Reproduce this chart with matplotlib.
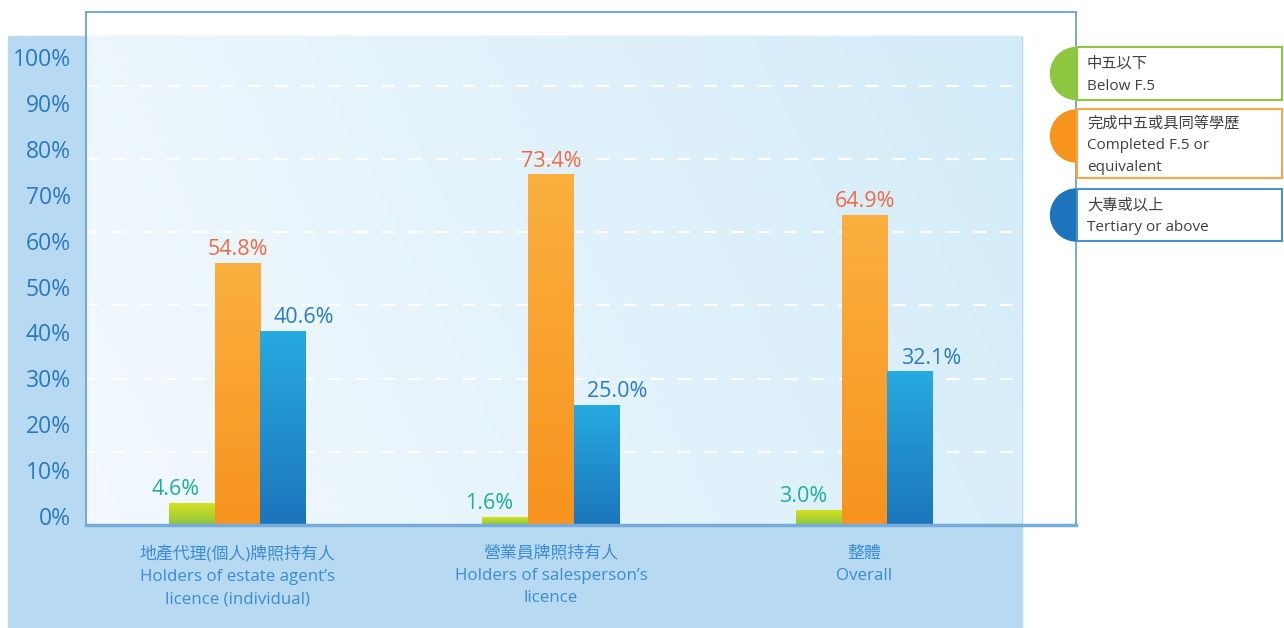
"""
Education level of licence holders - grouped bar chart with gradient bars.
"""

import matplotlib.pyplot as plt
import numpy as np
from matplotlib.colors import LinearSegmentedColormap
from matplotlib.patches import Rectangle, Circle

plt.rcParams['font.family'] = ['Open Sans', 'Noto Sans CJK TC', 'DejaVu Sans']

# data
categories = ["地產代理(個人)牌照持有人\nHolders of estate agent’s\nlicence (individual)",
              "營業員牌照持有人\nHolders of salesperson’s\nlicence",
              "整體\nOverall"]
series_names = ["中五以下\nBelow F.5",
                "完成中五或具同等學歷\nCompleted F.5 or\nequivalent",
                "大專或以上\nTertiary or above"]
below_f5 = [4.6, 1.6, 3.0]
completed_f5 = [54.8, 73.4, 64.9]
tertiary = [40.6, 25.0, 32.1]
y_ticks = list(range(0, 101, 10))

# styles
W, H = 1284, 628
bar_grads = [('#8cc63f', '#d7e021'), ('#f7931e', '#fbb040'), ('#1c75bc', '#27aae1')]
label_colors = ['#1fb09c', '#f06a45', '#2b7cc3']
legend_colors = ['#8dc63f', '#f7941d', '#1c75bc']
legend_edges = ['#8dc63f', '#f9a54a', '#4a8fd0']
spine_col = '#6aa3d6'


def fx(x):
    return x / W


def fy(y):
    return 1 - y / H


fig = plt.figure(figsize=(W / 100, H / 100), dpi=100)
fig.patch.set_facecolor('white')

# outer light blue panel
fig.patches.append(Rectangle((fx(8), 0), fx(1022 - 8), (628 - 36) / H,
                             transform=fig.transFigure, color='#b8d9f2', zorder=-5))

# main axes
ax = fig.add_axes([fx(86), fy(525), fx(1076 - 86), (525 - 12) / H], zorder=2)
ax.set_facecolor('none')
x0 = -151.5 / 313.5
x1 = (1076 - 237.5) / 313.5
ymax = 513 / 4.77
xg = (1022 - 237.5) / 313.5   # right end of shaded plot area
yg = (525 - 36) / 4.77        # top of shaded plot area

# plot area gradient
gx, gy = np.meshgrid(np.linspace(0, 1, 200), np.linspace(0, 1, 100))
g = 0.8 * gx + 0.2 * gy
bg_cmap = LinearSegmentedColormap.from_list('bg', ['#f3f9fe', '#d3ecf9'])
ax.imshow(g, cmap=bg_cmap, origin='lower', extent=(x0, xg, 0, yg),
          aspect='auto', zorder=0)

# dashed white gridlines
for gv in np.arange(1, 7) * 15.35:
    ax.plot([x0, xg], [gv, gv], color='white', lw=1.5, dashes=(6.3, 6.6), zorder=1)

x = np.arange(len(categories))
bw = 0.146
offsets = [-bw, 0, bw]
label_dx = [-11.5, 0, 15]
for i, vals in enumerate([below_f5, completed_f5, tertiary]):
    bars = ax.bar(x + offsets[i], vals, bw, color='none', zorder=2)
    cmap = LinearSegmentedColormap.from_list('b%d' % i, list(bar_grads[i]))
    for b, v in zip(bars, vals):
        bx = b.get_x()
        ax.imshow(np.linspace(0, 1, 256).reshape(-1, 1), cmap=cmap, origin='lower',
                  extent=(bx, bx + b.get_width(), 0, v), aspect='auto', zorder=2)
        ax.annotate(f"{v:.1f}%", (b.get_x() + b.get_width() / 2, v),
                    xytext=(label_dx[i], 6), textcoords='offset points',
                    ha='center', va='baseline', fontsize=15.5, color=label_colors[i])

ax.set_xlim(x0, x1)
ax.set_ylim(0, ymax)
ax.set_yticks([])
ax.set_xticks(x, categories)
ax.tick_params(axis='x', length=0, pad=15, labelsize=12.2, labelcolor='#3a8ed0')
for t in ax.get_xticklabels():
    t.set_linespacing(1.5)
for s in ['left', 'top', 'right']:
    ax.spines[s].set_color(spine_col)
    ax.spines[s].set_linewidth(1.3)
ax.spines['bottom'].set_color('#76acdc')
ax.spines['bottom'].set_linewidth(2.5)

# y-axis percentage labels
lab = fig.add_axes([fx(71), fy(516), 0.001, (516 - 57) / H], zorder=3)
lab.set_facecolor('none')
lab.set_frame_on(False)
lab.set_ylim(0, 100)
lab.set_xticks([])
lab.set_yticks(y_ticks, [f"{v}%" for v in y_ticks])
lab.tick_params(axis='y', length=0, pad=0, labelsize=16.5, labelcolor='#2a7abf')

# legend drawn in pixel space
ov = fig.add_axes([0, 0, 1, 1], zorder=5)
ov.set_xlim(0, W)
ov.set_ylim(H, 0)
ov.axis('off')
boxes = [(47, 100), (109, 178), (189, 241)]
for name, col, ec, (top, bot) in zip(series_names, legend_colors, legend_edges, boxes):
    cy = (top + bot) / 2
    cyc = cy if bot - top < 60 else top + 27
    ov.add_patch(Circle((1076.5, cyc), 26, color=col, zorder=1))
    ov.add_patch(Rectangle((1077, top), 205, bot - top, facecolor='white',
                           edgecolor=ec, lw=1.5, zorder=2))
    ov.text(1087, cy + 2, name, ha='left', va='center', fontsize=11,
            color='#404040', linespacing=1.6, zorder=3)

fig.savefig('out.png', dpi=100)
